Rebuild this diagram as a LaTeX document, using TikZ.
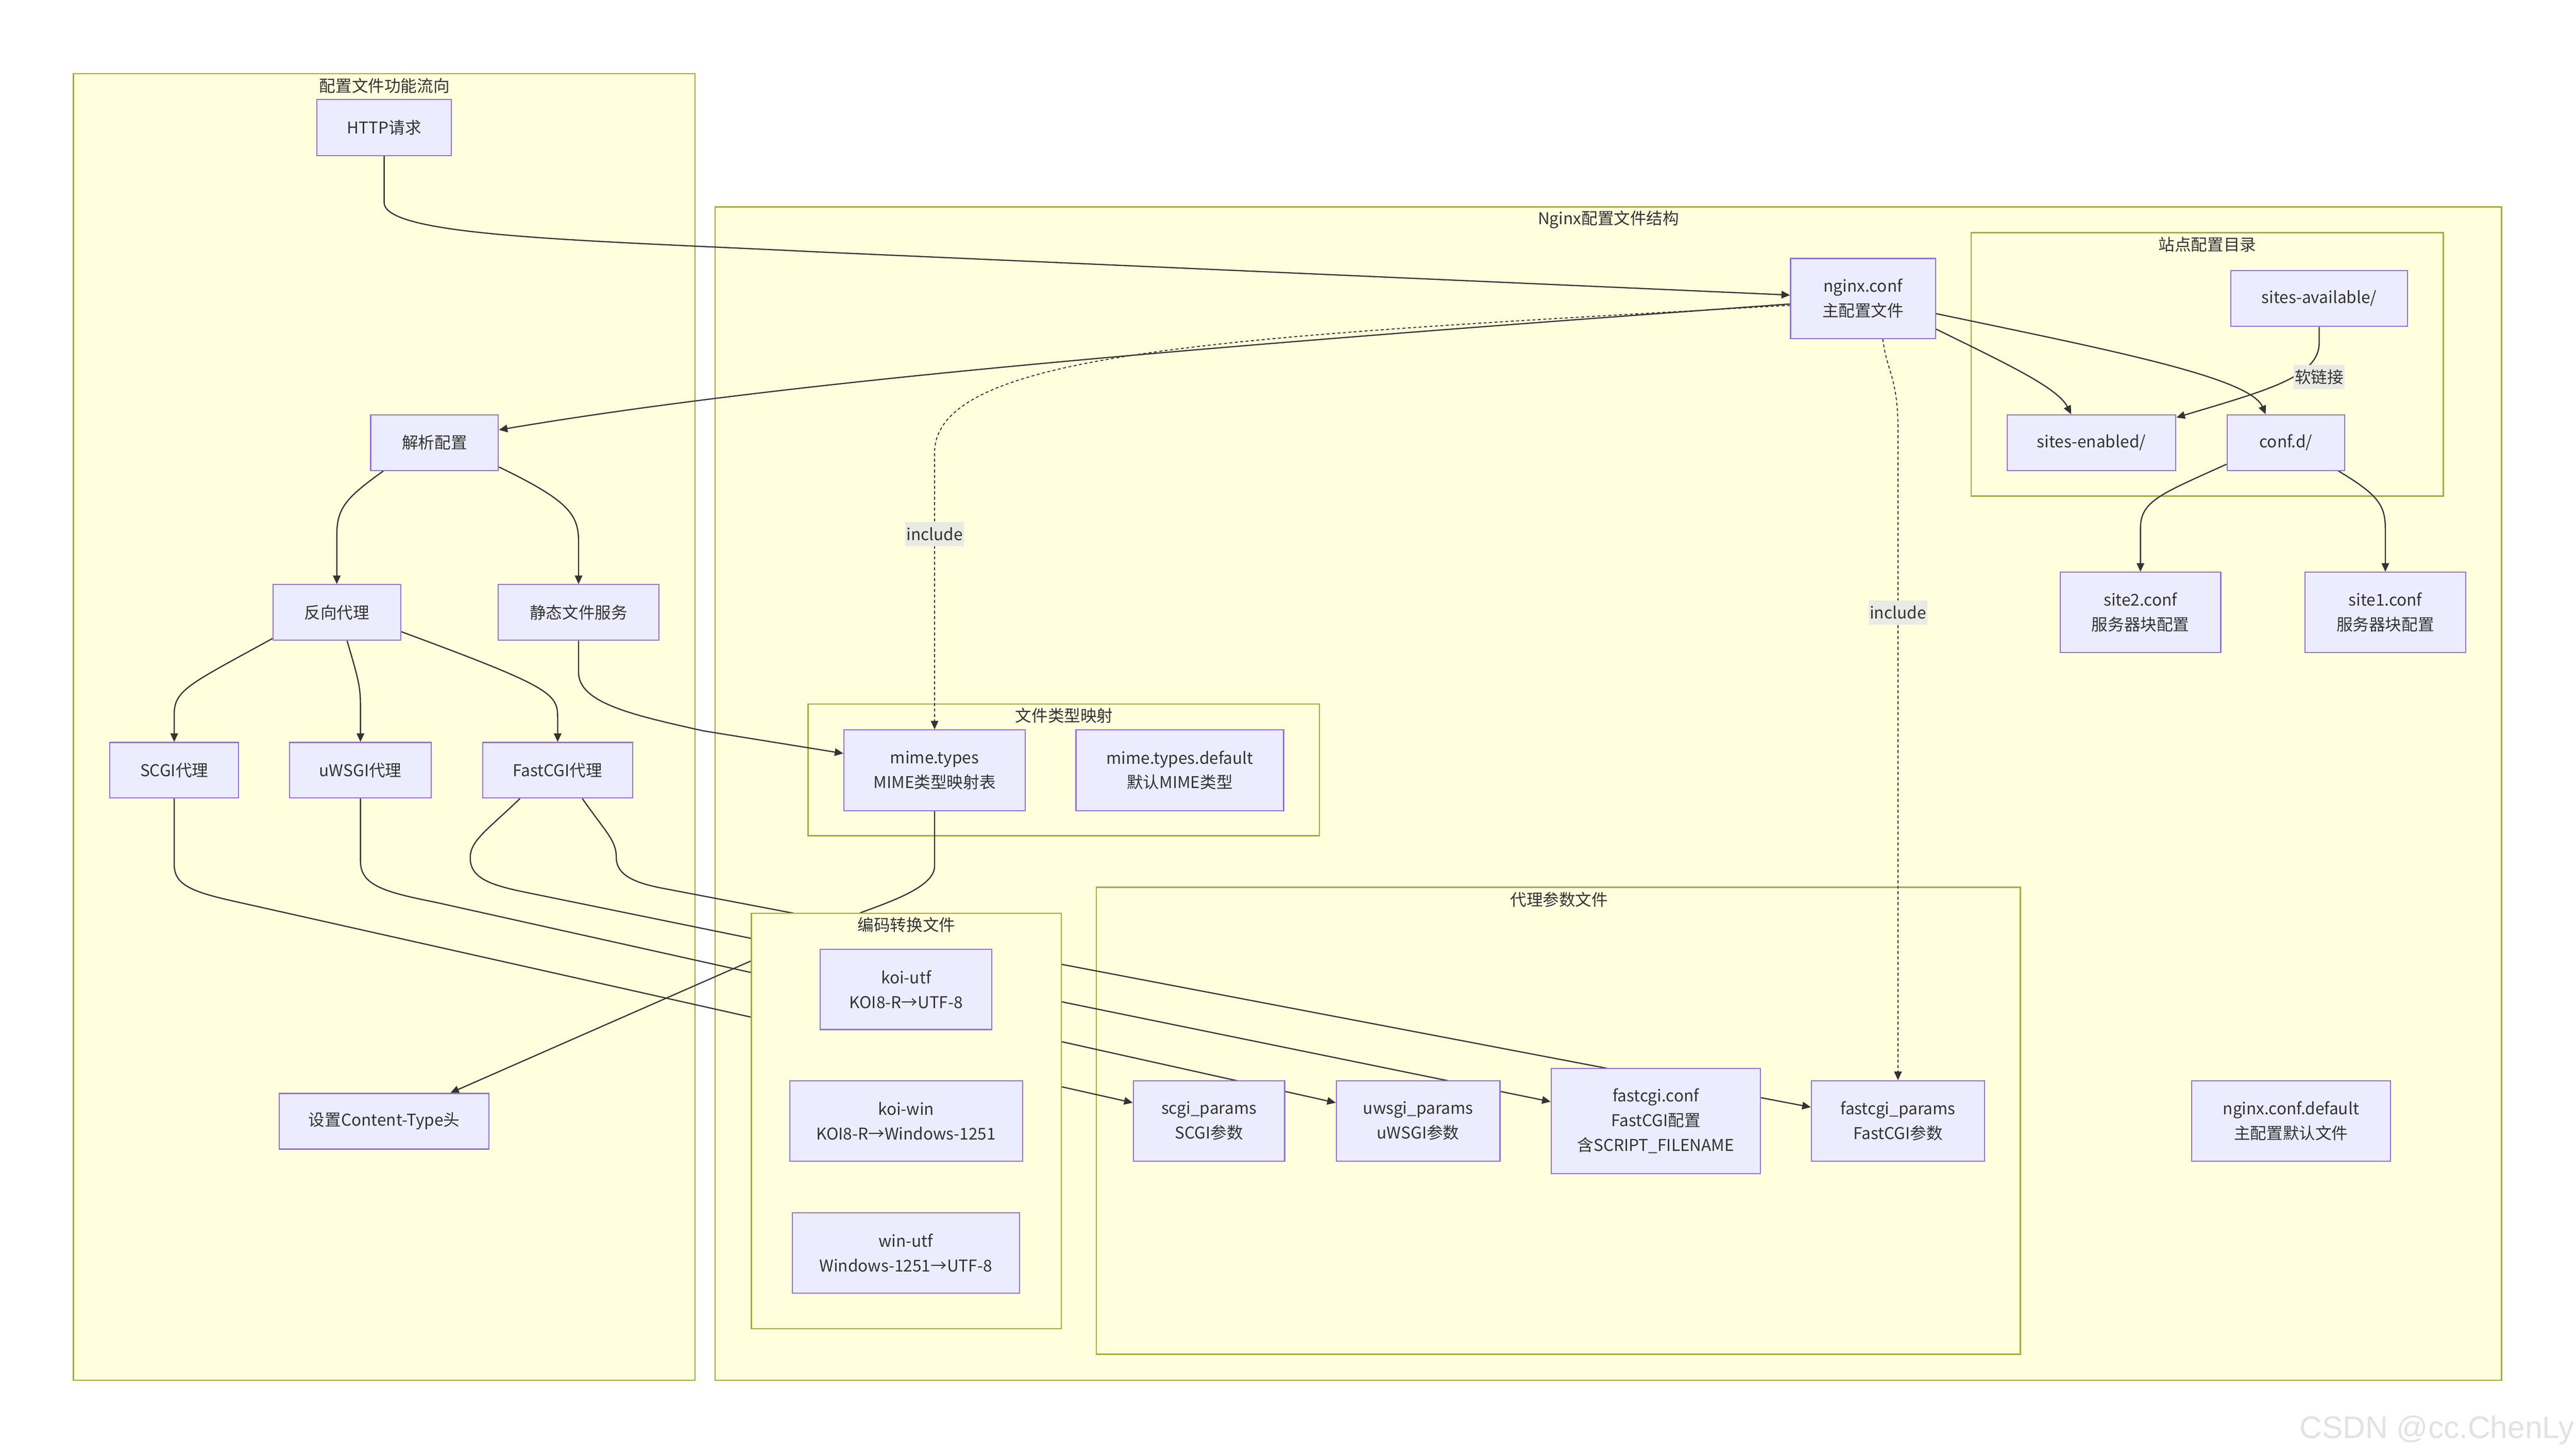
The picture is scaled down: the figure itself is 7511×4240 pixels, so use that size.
\documentclass[tikz,border=0pt]{standalone}
\usepackage{fontspec}
\setmainfont{Noto Sans CJK SC}
\newfontfamily\wmfont{Liberation Sans}
\usetikzlibrary{arrows.meta}
\definecolor{nodef}{HTML}{ECECFF}
\definecolor{nodeb}{HTML}{9370DB}
\definecolor{clf}{HTML}{FFFFDE}
\definecolor{clb}{HTML}{AAAA33}
\definecolor{txt}{HTML}{333333}
\definecolor{edgec}{HTML}{333333}
\definecolor{lblbg}{HTML}{EAEAE5}
\definecolor{wm}{HTML}{E2E2E2}
\newcommand\dfont{\fontsize{13.5pt}{20.5pt}\selectfont}
\tikzset{
  nbox/.style={draw=nodeb, fill=nodef, line width=0.9pt, inner sep=0pt, align=center, text=txt, font=\dfont},
  clus/.style={draw=clb, fill=clf, line width=1pt},
  ctitle/.style={text=txt, font=\dfont, inner sep=0pt},
  edge/.style={draw=edgec, line width=1pt, -{Triangle[length=0.25cm, width=0.22cm]}},
  plainedge/.style={draw=edgec, line width=1pt},
  dedge/.style={draw=edgec, line width=0.8pt, dash pattern=on 2.5pt off 2pt, -{Triangle[length=0.25cm, width=0.22cm]}},
  elabel/.style={fill=lblbg, text=txt, font=\dfont, inner xsep=1pt, inner ysep=0pt, minimum height=0.7cm}
}
\begin{document}
\begin{tikzpicture}[x=0.01cm, y=-0.01cm]
\useasboundingbox (0,0) rectangle (7511,4240);
\fill[white] (0,0) rectangle (7511,4240);

% clusters (background layer)
\draw[clus] (214,215) rectangle (2026,4023);
\node[ctitle] (tA) at (1121,250) {配置文件功能流向};
\draw[clus] (2085,603) rectangle (7294,4023);
\node[ctitle] (tB) at (4690,640) {Nginx配置文件结构};
\draw[clus] (5747,678) rectangle (7124,1446);
\node[ctitle] (tC) at (6436,713) {站点配置目录};
\draw[clus] (2356,2052) rectangle (3847,2436);
\node[ctitle] (tD) at (3103,2086) {文件类型映射};
\draw[clus] (3197,2586) rectangle (5891,3947);
\node[ctitle] (tF) at (4546,2622) {代理参数文件};

% nodes (defined now, redrawn later on top)
\path
  (1120,372) node[nbox, minimum width=3.91cm, minimum height=1.63cm] (http) {HTTP请求}
  (1267,1290) node[nbox, minimum width=3.72cm, minimum height=1.62cm] (parse) {解析配置}
  (982,1785) node[nbox, minimum width=3.72cm, minimum height=1.62cm] (rproxy) {反向代理}
  (1687,1785) node[nbox, minimum width=4.68cm, minimum height=1.62cm] (static) {静态文件服务}
  (508,2245) node[nbox, minimum width=3.75cm, minimum height=1.62cm] (scgi) {SCGI代理}
  (1051,2245) node[nbox, minimum width=4.13cm, minimum height=1.62cm] (uwsgi) {uWSGI代理}
  (1626,2245) node[nbox, minimum width=4.38cm, minimum height=1.62cm] (fcgi) {FastCGI代理}
  (1120,3268) node[nbox, minimum width=6.12cm, minimum height=1.62cm] (ctype) {设置Content-Type头}
  (5432,870) node[nbox, minimum width=4.22cm, minimum height=2.33cm] (nginx) {nginx.conf\\主配置文件}
  (6762,870) node[nbox, minimum width=5.15cm, minimum height=1.63cm] (savail) {sites-available/}
  (6098,1290) node[nbox, minimum width=4.92cm, minimum height=1.62cm] (senabled) {sites-enabled/}
  (6665,1290) node[nbox, minimum width=3.43cm, minimum height=1.62cm] (confd) {conf.d/}
  (6241,1785) node[nbox, minimum width=4.68cm, minimum height=2.34cm] (site2) {site2.conf\\服务器块配置}
  (6955,1785) node[nbox, minimum width=4.68cm, minimum height=2.34cm] (site1) {site1.conf\\服务器块配置}
  (2725,2245) node[nbox, minimum width=5.29cm, minimum height=2.35cm] (mime) {mime.types\\MIME类型映射表}
  (3440,2245) node[nbox, minimum width=6.05cm, minimum height=2.35cm] (mimedef) {mime.types.default\\默认MIME类型}
  (3525,3267) node[nbox, minimum width=4.41cm, minimum height=2.34cm] (scgip) {scgi\_params\\SCGI参数}
  (4135,3267) node[nbox, minimum width=4.77cm, minimum height=2.34cm] (uwsgip) {uwsgi\_params\\uWSGI参数}
  (4828,3267) node[nbox, minimum width=6.10cm, minimum height=3.06cm] (fcgiconf) {fastcgi.conf\\FastCGI配置\\含SCRIPT\_FILENAME}
  (5534,3267) node[nbox, minimum width=5.05cm, minimum height=2.34cm] (fcgip) {fastcgi\_params\\FastCGI参数}
  (6680,3267) node[nbox, minimum width=5.79cm, minimum height=2.34cm] (ndef) {nginx.conf.default\\主配置默认文件};

% edges
\draw[edge] (http.south) -- (1120,590) .. controls (1120,690) and (1700,700) .. (2400,735) -- ([yshift=0.1cm]nginx.west);
\draw[edge] ([yshift=-0.16cm]nginx.west) .. controls (3500,1010) and (2300,1110) .. ([yshift=0.37cm]parse.east);
\draw[dedge] ([yshift=-0.2cm]nginx.west) .. controls (3600,980) and (2725,1020) .. (2725,1320) -- (mime.north);
\draw[dedge] ([xshift=0.58cm]nginx.south) .. controls (5500,1080) and (5534,1100) .. (5534,1250) -- (fcgip.north);
\draw[edge] ([yshift=-0.89cm]nginx.east) .. controls (5850,1060) and (6000,1130) .. ([xshift=-0.59cm]senabled.north);
\draw[edge] ([yshift=-0.44cm]nginx.east) .. controls (6150,1020) and (6560,1100) .. ([xshift=-0.59cm]confd.north);
\draw[edge] (savail.south) -- (6762,1000) .. controls (6762,1100) and (6600,1140) .. ([yshift=0.73cm]senabled.east);
\draw[edge] ([yshift=-0.63cm]confd.west) .. controls (6300,1440) and (6241,1460) .. (6241,1540) -- (site2.north);
\draw[edge] ([xshift=1.53cm]confd.south) .. controls (6930,1440) and (6955,1470) .. (6955,1540) -- (site1.north);
\draw[edge] ([xshift=-1.49cm]parse.south) .. controls (1010,1450) and (982,1480) .. (982,1560) -- (rproxy.north);
\draw[edge] ([yshift=-0.71cm]parse.east) .. controls (1660,1460) and (1687,1500) .. (1687,1580) -- (static.north);
\draw[edge] ([yshift=-0.76cm]rproxy.west) .. controls (560,1990) and (508,2010) .. (508,2080) -- (scgi.north);
\draw[edge] ([xshift=0.3cm]rproxy.south) .. controls (1045,1980) and (1051,2000) .. (1051,2060) -- (uwsgi.north);
\draw[edge] ([yshift=-0.56cm]rproxy.east) .. controls (1600,2000) and (1626,2020) .. (1626,2090) -- (fcgi.north);
\draw[edge] (static.south) -- (1687,1960) .. controls (1687,2050) and (1850,2085) .. (2050,2130) -- ([yshift=0.49cm]mime.west);
\draw[edge] (mime.south) -- (2725,2524) .. controls (2725,2580) and (2620,2620) .. (2515,2658) -- ([xshift=1.93cm]ctype.north);
\draw[edge] (scgi.south) -- (508,2520) .. controls (508,2580) and (560,2600) .. (697,2630) -- ([yshift=0.53cm]scgip.west);
\draw[edge] (uwsgi.south) -- (1051,2510) .. controls (1051,2580) and (1120,2600) .. (1271,2630) -- ([yshift=0.53cm]uwsgip.west);
\draw[edge] ([xshift=-1.1cm]fcgi.south) .. controls (1420,2420) and (1371,2450) .. (1371,2500) .. controls (1371,2560) and (1430,2580) .. (1539,2602) -- ([yshift=0.56cm]fcgiconf.west);
\draw[edge] ([xshift=0.72cm]fcgi.south) .. controls (1770,2430) and (1797,2450) .. (1797,2500) .. controls (1797,2550) and (1850,2572) .. (1922,2587) -- ([yshift=0.4cm]fcgip.west);

% encoding cluster drawn over the edges
\draw[clus] (2191,2662) rectangle (3094,3873);
\node[ctitle] (tE) at (2643,2695) {编码转换文件};

% nodes on top
\path
  (1120,372) node[nbox, minimum width=3.91cm, minimum height=1.63cm] {HTTP请求}
  (1267,1290) node[nbox, minimum width=3.72cm, minimum height=1.62cm] {解析配置}
  (982,1785) node[nbox, minimum width=3.72cm, minimum height=1.62cm] {反向代理}
  (1687,1785) node[nbox, minimum width=4.68cm, minimum height=1.62cm] {静态文件服务}
  (508,2245) node[nbox, minimum width=3.75cm, minimum height=1.62cm] {SCGI代理}
  (1051,2245) node[nbox, minimum width=4.13cm, minimum height=1.62cm] {uWSGI代理}
  (1626,2245) node[nbox, minimum width=4.38cm, minimum height=1.62cm] {FastCGI代理}
  (1120,3268) node[nbox, minimum width=6.12cm, minimum height=1.62cm] {设置Content-Type头}
  (5432,870) node[nbox, minimum width=4.22cm, minimum height=2.33cm] {nginx.conf\\主配置文件}
  (6762,870) node[nbox, minimum width=5.15cm, minimum height=1.63cm] {sites-available/}
  (6098,1290) node[nbox, minimum width=4.92cm, minimum height=1.62cm] {sites-enabled/}
  (6665,1290) node[nbox, minimum width=3.43cm, minimum height=1.62cm] {conf.d/}
  (6241,1785) node[nbox, minimum width=4.68cm, minimum height=2.34cm] {site2.conf\\服务器块配置}
  (6955,1785) node[nbox, minimum width=4.68cm, minimum height=2.34cm] {site1.conf\\服务器块配置}
  (2725,2245) node[nbox, minimum width=5.29cm, minimum height=2.35cm] {mime.types\\MIME类型映射表}
  (3440,2245) node[nbox, minimum width=6.05cm, minimum height=2.35cm] {mime.types.default\\默认MIME类型}
  (2642,2884) node[nbox, minimum width=5.00cm, minimum height=2.33cm] (koiutf) {koi-utf\\KOI8-R→UTF-8}
  (2642,3267) node[nbox, minimum width=6.79cm, minimum height=2.34cm] (koiwin) {koi-win\\KOI8-R→Windows-1251}
  (2641,3652) node[nbox, minimum width=6.62cm, minimum height=2.35cm] (winutf) {win-utf\\Windows-1251→UTF-8}
  (3525,3267) node[nbox, minimum width=4.41cm, minimum height=2.34cm] {scgi\_params\\SCGI参数}
  (4135,3267) node[nbox, minimum width=4.77cm, minimum height=2.34cm] {uwsgi\_params\\uWSGI参数}
  (4828,3267) node[nbox, minimum width=6.10cm, minimum height=3.06cm] {fastcgi.conf\\FastCGI配置\\含SCRIPT\_FILENAME}
  (5534,3267) node[nbox, minimum width=5.05cm, minimum height=2.34cm] {fastcgi\_params\\FastCGI参数}
  (6680,3267) node[nbox, minimum width=5.79cm, minimum height=2.34cm] {nginx.conf.default\\主配置默认文件};

% edge labels
\node[elabel] (inc1) at (2725,1557) {include};
\node[elabel] (inc2) at (5534,1785) {include};
\node[elabel] (soft) at (6762,1099) {软链接};

% watermark
\node[anchor=base east, text=wm, font=\wmfont\fontsize{25.8pt}{30pt}\selectfont, inner sep=0pt] (wmark) at (7506,4192) {CSDN @cc.ChenLy};
\end{tikzpicture}
\end{document}
